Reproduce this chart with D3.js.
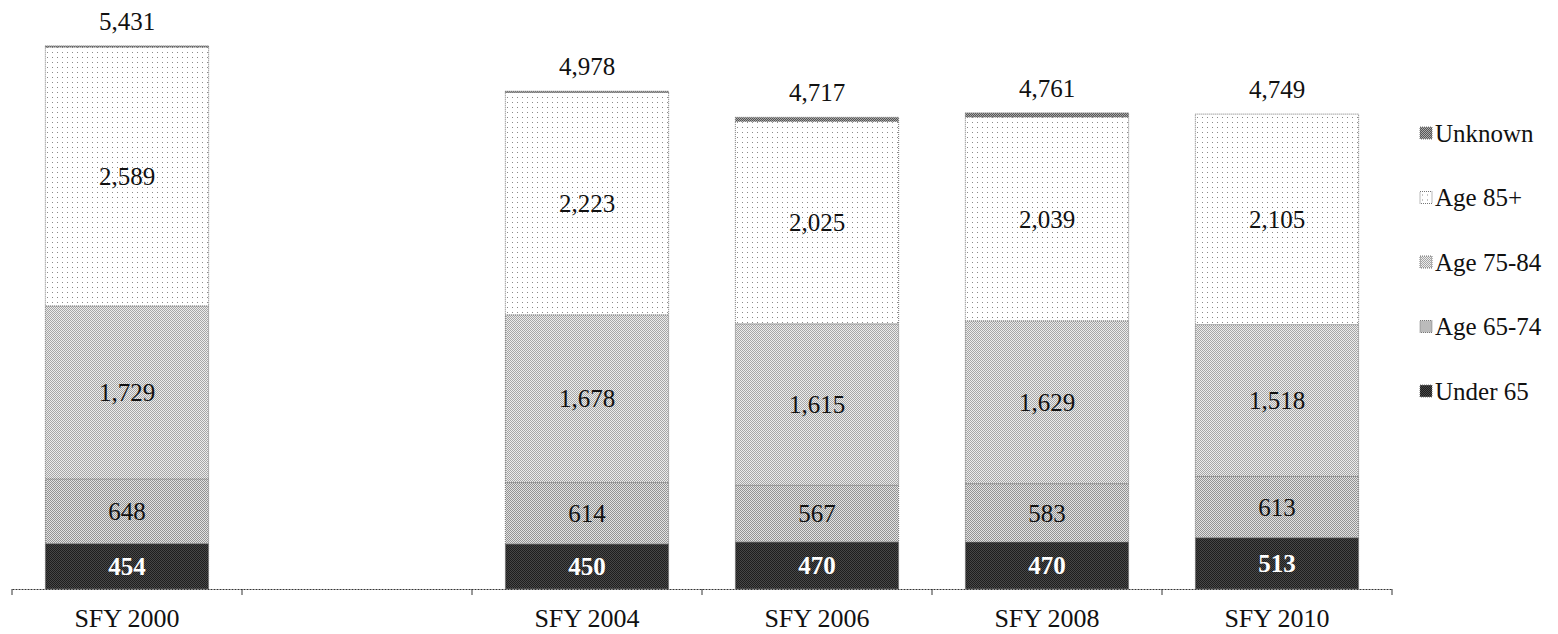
<!DOCTYPE html>
<html>
<head>
<meta charset="utf-8">
<script src="https://cdn.jsdelivr.net/npm/d3@7"></script>
<style>
  html, body { margin: 0; padding: 0; background: #fff; }
  svg { display: block; }
  text { font-family: "Liberation Serif", "Times New Roman", serif; }
</style>
</head>
<body>
<svg id="chart" width="1558" height="634"></svg>
<script>
// Fiscal years on the axis; the second slot is an empty gap year.
const categories = ["SFY 2000", "", "SFY 2004", "SFY 2006", "SFY 2008", "SFY 2010"];

// Counts by age group (null = no data for that slot)
const under65   = [454,  null, 450,  470,  470,  513];
const age65_74  = [648,  null, 614,  567,  583,  613];
const age75_84  = [1729, null, 1678, 1615, 1629, 1518];
const age85plus = [2589, null, 2223, 2025, 2039, 2105];
const unknown   = [11,   null, 13,   40,   40,   0];

const seriesKeys   = ["Under 65", "Age 65-74", "Age 75-84", "Age 85+", "Unknown"];
const seriesValues = [under65, age65_74, age75_84, age85plus, unknown];
const legendOrder  = ["Unknown", "Age 85+", "Age 75-84", "Age 65-74", "Under 65"];

const svg = d3.select("#chart");
const W = 1558, H = 634;
const margin = { left: 12, right: 166, top: 46, bottom: 45 };
const baseY = H - margin.bottom;

// Dithered fills
const defs = svg.append("defs");
function checker(id, a, b) {
  const p = defs.append("pattern").attr("id", id)
    .attr("width", 2).attr("height", 2).attr("patternUnits", "userSpaceOnUse");
  p.append("rect").attr("width", 2).attr("height", 2).attr("fill", a);
  p.append("rect").attr("width", 1).attr("height", 1).attr("fill", b);
  p.append("rect").attr("x", 1).attr("y", 1).attr("width", 1).attr("height", 1).attr("fill", b);
}
checker("pUnder", "#474747", "#1e1e1e");
checker("p6574", "#e2e2e2", "#939393");
checker("p7584", "#ececec", "#a6a6a6");
checker("pUnk", "#aaaaaa", "#555555");
(function () {
  const p = defs.append("pattern").attr("id", "p85")
    .attr("width", 5).attr("height", 5).attr("patternUnits", "userSpaceOnUse");
  p.append("rect").attr("width", 5).attr("height", 5).attr("fill", "#ffffff");
  p.append("rect").attr("x", 2).attr("y", 2).attr("width", 1).attr("height", 1).attr("fill", "#8a8a8a");
})();

const fills = {
  "Under 65": "url(#pUnder)",
  "Age 65-74": "url(#p6574)",
  "Age 75-84": "url(#p7584)",
  "Age 85+": "url(#p85)",
  "Unknown": "url(#pUnk)"
};

// Rows for categories that carry data
const rows = categories.map((c, i) => {
  const r = { cat: c, has: seriesValues[0][i] !== null };
  seriesKeys.forEach((k, j) => { r[k] = seriesValues[j][i] || 0; });
  return r;
}).filter(r => r.has);

const x = d3.scaleBand()
  .domain(categories)
  .range([margin.left, W - margin.right])
  .paddingInner(0.29)
  .paddingOuter(0.145);

const y = d3.scaleLinear().domain([0, 6000]).range([baseY, baseY - 600]);

const stacked = d3.stack().keys(seriesKeys)(rows);

const layer = svg.append("g").selectAll("g")
  .data(stacked).join("g")
  .attr("fill", d => fills[d.key]);

layer.selectAll("rect")
  .data(d => d.map(s => ({ key: d.key, s })))
  .join("rect")
  .attr("x", d => x(d.s.data.cat))
  .attr("width", x.bandwidth())
  .attr("y", d => y(d.s[1]))
  .attr("height", d => Math.max(0, y(d.s[0]) - y(d.s[1])))
  .attr("stroke", "#777")
  .attr("stroke-width", 1)
  .attr("stroke-dasharray", "1,1");

// Segment value labels
const labelled = ["Under 65", "Age 65-74", "Age 75-84", "Age 85+"];
stacked.filter(s => labelled.includes(s.key)).forEach(s => {
  svg.append("g").selectAll("text")
    .data(s).join("text")
    .attr("x", d => x(d.data.cat) + x.bandwidth() / 2)
    .attr("y", d => (y(d[0]) + y(d[1])) / 2)
    .attr("dy", "0.35em")
    .attr("text-anchor", "middle")
    .attr("font-size", 25)
    .attr("font-weight", s.key === "Under 65" ? "bold" : "normal")
    .attr("fill", s.key === "Under 65" ? "#ffffff" : "#111")
    .text(d => d3.format(",")(d.data[s.key]));
});

// Totals above bars
svg.append("g").selectAll("text")
  .data(rows).join("text")
  .attr("x", d => x(d.cat) + x.bandwidth() / 2)
  .attr("y", d => y(d3.sum(seriesKeys, k => d[k])) - 16)
  .attr("text-anchor", "middle")
  .attr("font-size", 25)
  .attr("fill", "#111")
  .text(d => d3.format(",")(d3.sum(seriesKeys, k => d[k])));

// Category axis
const axis = svg.append("g").attr("transform", `translate(0,${baseY})`)
  .call(d3.axisBottom(x).tickSize(0).tickPadding(20));
axis.select(".domain").attr("stroke", "#333").attr("stroke-dasharray", "2,1");
axis.selectAll(".tick text")
  .attr("font-size", 26).attr("fill", "#111");

// Boundary ticks between categories
const bounds = d3.range(categories.length + 1).map(i => margin.left + i * x.step());
axis.selectAll(".btick").data(bounds).join("line")
  .attr("class", "btick")
  .attr("x1", d => d).attr("x2", d => d)
  .attr("y1", 0).attr("y2", 6)
  .attr("stroke", "#333");

// Legend
const lg = svg.append("g").attr("transform", "translate(1420,133)");
const li = lg.selectAll("g").data(legendOrder).join("g")
  .attr("transform", (d, i) => `translate(0,${i * 64.5})`);
li.append("rect")
  .attr("x", 0).attr("y", -6).attr("width", 12).attr("height", 12)
  .attr("fill", d => fills[d])
  .attr("stroke", "#777").attr("stroke-dasharray", "1,1");
li.append("text")
  .attr("x", 15).attr("dy", "0.35em")
  .attr("font-size", 25).attr("fill", "#111")
  .text(d => d);
</script>
</body>
</html>
